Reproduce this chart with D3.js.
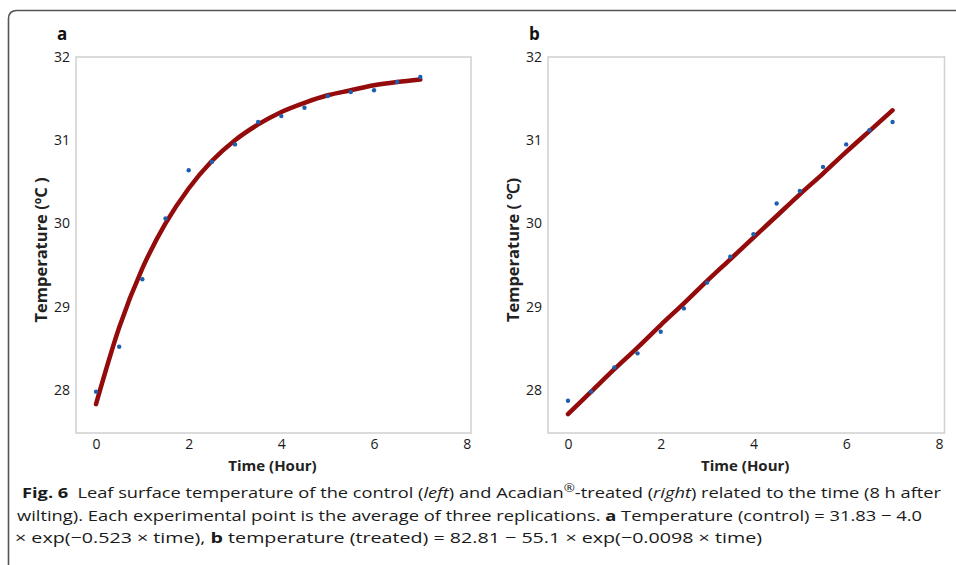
<!DOCTYPE html>
<html><head><meta charset="utf-8">
<script src="https://cdn.jsdelivr.net/npm/d3@7"></script>
<style>
html,body{margin:0;padding:0;background:#fff;}
svg{display:block;}
</style></head>
<body>
<svg id="chart" width="956" height="565"></svg>
<script>
// ---- data ----
const times = [0, 0.5, 1, 1.5, 2, 2.5, 3, 3.5, 4, 4.5, 5, 5.5, 6, 6.5, 7];
const controlTemps = [27.98, 28.52, 29.33, 30.06, 30.64, 30.74, 30.95, 31.22, 31.29, 31.39, 31.53, 31.58, 31.60, 31.70, 31.76];
const treatedTemps = [27.87, 27.98, 28.27, 28.44, 28.70, 28.98, 29.29, 29.60, 29.87, 30.24, 30.39, 30.68, 30.95, 31.12, 31.22];
// fitted curves
const fitTimes = [0, 0.5, 1, 1.5, 2, 2.5, 3, 3.5, 4, 4.5, 5, 5.5, 6, 6.5, 7];
const controlFit = [27.83, 28.75, 29.46, 30.00, 30.42, 30.75, 31.00, 31.19, 31.34, 31.45, 31.54, 31.60, 31.66, 31.70, 31.73];
const treatedFit = [27.71, 27.98, 28.25, 28.51, 28.78, 29.04, 29.31, 29.57, 29.83, 30.09, 30.35, 30.60, 30.86, 31.11, 31.36];
const xTicks = [0, 2, 4, 6, 8];
const yTicks = [28, 29, 30, 31, 32];
const panelLabels = ["a", "b"];
const yTitles = ["Temperature (\u00BAC )", "Temperature ( \u2103)"];
const xTitle = "Time (Hour)";

const svg = d3.select("#chart");

// outer frame
svg.append("path")
  .attr("d", "M8.5,565 L8.5,19 Q8.5,10.5 17,10.5 L956,10.5")
  .attr("fill", "none").attr("stroke", "#555").attr("stroke-width", 1.6);

const panels = [
  {box: [76, 471], xdom: [-0.432, 8.094], pts: controlTemps, fit: controlFit, lx: 57, ytx: 41},
  {box: [548, 944.5], xdom: [-0.431, 8.12], pts: treatedTemps, fit: treatedFit, lx: 529, ytx: 513}
];
const plotTop = 57, plotBottom = 433;
const tickFont = "'Open Sans', sans-serif";

panels.forEach((p, i) => {
  const x = d3.scaleLinear().domain(p.xdom).range(p.box);
  const y = d3.scaleLinear().domain([27.483, 32.0]).range([plotBottom, plotTop]);
  const g = svg.append("g");

  g.append("rect")
    .attr("x", p.box[0]).attr("y", plotTop)
    .attr("width", p.box[1] - p.box[0]).attr("height", plotBottom - plotTop)
    .attr("fill", "#fff").attr("stroke", "#d3d3d3").attr("stroke-width", 1.6);

  // axes (labels only, no tick marks)
  const xa = g.append("g").attr("transform", `translate(0,${plotBottom + 3})`)
    .call(d3.axisBottom(x).tickValues(xTicks).tickSize(0).tickPadding(3).tickFormat(d3.format("d")));
  const ya = g.append("g").attr("transform", `translate(${p.box[0] - 4},0)`)
    .call(d3.axisLeft(y).tickValues(yTicks).tickSize(0).tickPadding(2).tickFormat(d3.format("d")));
  [xa, ya].forEach(a => {
    a.select(".domain").remove();
    a.selectAll("text").attr("font-family", tickFont).attr("font-size", 14).attr("fill", "#1a1a1a");
  });

  // fitted line
  const line = d3.line().x((d, k) => x(fitTimes[k])).y(d => y(d)).curve(d3.curveMonotoneX);
  g.append("path").datum(p.fit).attr("d", line)
    .attr("fill", "none").attr("stroke", "#930b0b").attr("stroke-width", 4.5).attr("stroke-linecap", "round");

  // points
  g.selectAll("circle.pt").data(p.pts).enter().append("circle")
    .attr("class", "pt")
    .attr("cx", (d, k) => x(times[k])).attr("cy", d => y(d)).attr("r", 2.2)
    .attr("fill", "#1d5fae");

  // panel label
  g.append("text").attr("x", p.lx).attr("y", 40).text(panelLabels[i])
    .attr("font-family", tickFont).attr("font-weight", "bold").attr("font-size", 17).attr("fill", "#111");

  // axis titles
  g.append("text").attr("x", (p.box[0] + p.box[1]) / 2 - 1).attr("y", 471)
    .attr("text-anchor", "middle").text(xTitle)
    .attr("font-family", tickFont).attr("font-weight", "bold").attr("font-size", 15).attr("fill", "#222");
  g.append("text").attr("transform", `translate(${p.ytx + 6},250) rotate(-90)`)
    .attr("text-anchor", "middle").text(yTitles[i])
    .attr("font-family", tickFont).attr("font-weight", "bold").attr("font-size", 16.5).attr("fill", "#222");
});

// caption
const capFont = "'Open Sans', sans-serif";
const capLines = [
  {x: 22, y: 498, w: 919, parts: [["Fig. 6", "bold", "normal"], ["\u2002Leaf surface temperature of the control (", "normal", "normal"], ["left", "normal", "italic"], [") and Acadian", "normal", "normal"], ["\u00AE", "normal", "normal", true], ["-treated (", "normal", "normal"], ["right", "normal", "italic"], [") related to the time (8 h after", "normal", "normal"]]},
  {x: 17, y: 521, w: 905, parts: [["wilting). Each experimental point is the average of three replications. ", "normal", "normal"], ["a", "bold", "normal"], [" Temperature (control) = 31.83 \u2212 4.0", "normal", "normal"]]},
  {x: 15, y: 543, w: 747, parts: [["\u00D7 exp(\u22120.523 \u00D7 time), ", "normal", "normal"], ["b", "bold", "normal"], [" temperature (treated) = 82.81 \u2212 55.1 \u00D7 exp(\u22120.0098 \u00D7 time)", "normal", "normal"]]}
];
capLines.forEach(l => {
  const t = svg.append("text").attr("x", l.x).attr("y", l.y)
    .attr("font-family", capFont).attr("font-size", 15).attr("fill", "#1a1a1a")
    .attr("textLength", l.w).attr("lengthAdjust", "spacingAndGlyphs");
  l.parts.forEach((pt, idx) => {
    const s = t.append("tspan").text(pt[0]).attr("font-weight", pt[1]).attr("font-style", pt[2]);
    if (pt[3]) { s.attr("dy", -6).attr("font-size", 11); }
    else if (idx > 0 && l.parts[idx - 1][3]) { s.attr("dy", 6); }
  });
});
</script>
</body></html>
